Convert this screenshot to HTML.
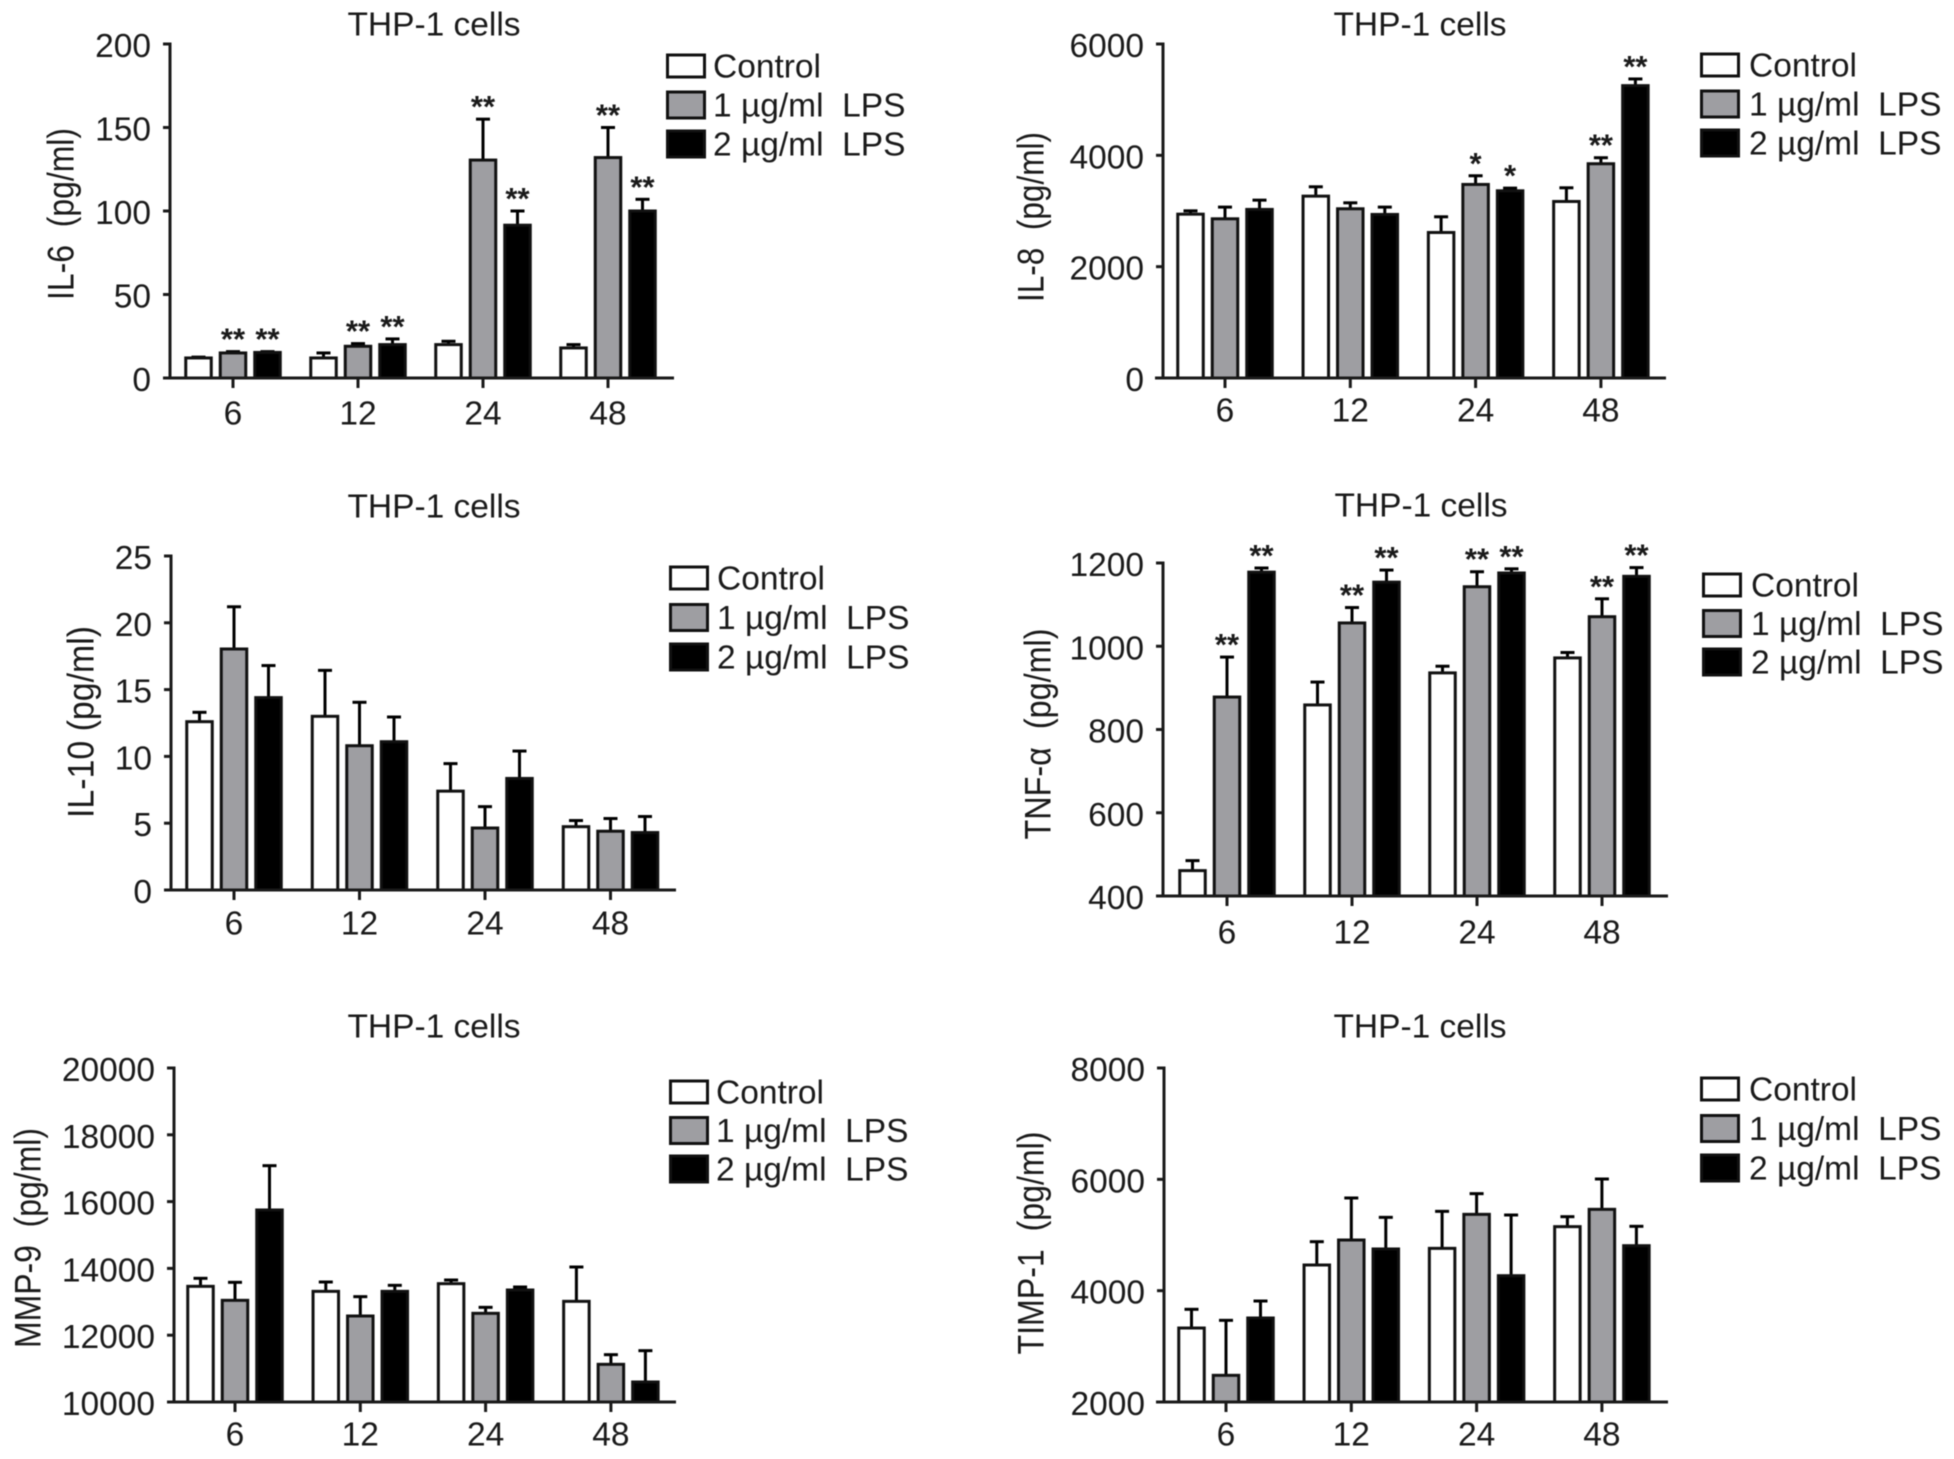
<!DOCTYPE html>
<html lang="en">
<head>
<meta charset="utf-8">
<title>THP-1 cell cytokine panels</title>
<style>
html,body{margin:0;padding:0;background:#fff;width:1954px;height:1459px;overflow:hidden}
svg{display:block;filter:blur(0.6px)}
text{font-family:"Liberation Sans",Arial,sans-serif;fill:#1a1a1a;white-space:pre}
</style>
</head>
<body>
<svg id="figure" xmlns="http://www.w3.org/2000/svg" width="1954" height="1459" viewBox="0 0 1954 1459"></svg>
<script>
const categories = ['6', '12', '24', '48'];
const seriesNames = ['Control', '1 \u00b5g/ml  LPS', '2 \u00b5g/ml  LPS'];

const il6Ticks = [0, 50, 100, 150, 200];
const il6Control = [12, 12, 20, 18];
const il6ControlErr = [0.5, 3, 2, 2];
const il6Low = [15, 19, 130.5, 132];
const il6LowErr = [0.8, 1.6, 24.5, 18];
const il6High = [15.3, 20, 91.5, 100];
const il6HighErr = [0.5, 3.4, 8.5, 7];
const il6LowStars = ['**', '**', '**', '**'];
const il6HighStars = ['**', '**', '**', '**'];

const il8Ticks = [0, 2000, 4000, 6000];
const il8Control = [2943, 3267, 2614, 3171];
const il8ControlErr = [60, 168, 282, 246];
const il8Low = [2860, 3040, 3477, 3849];
const il8LowErr = [210, 107, 156, 108];
const il8High = [3028, 2938, 3363, 5252];
const il8HighErr = [167, 132, 48, 120];
const il8LowStars = ['', '', '*', '**'];
const il8HighStars = ['', '', '*', '**'];

const il10Ticks = [0, 5, 10, 15, 20, 25];
const il10Control = [12.6, 13, 7.4, 4.74];
const il10ControlErr = [0.7, 3.44, 2.06, 0.46];
const il10Low = [18.04, 10.8, 4.64, 4.4];
const il10LowErr = [3.16, 3.25, 1.6, 0.95];
const il10High = [14.4, 11.1, 8.35, 4.3];
const il10HighErr = [2.4, 1.85, 2.05, 1.2];
const il10LowStars = ['', '', '', ''];
const il10HighStars = ['', '', '', ''];

const tnfTicks = [400, 600, 800, 1000, 1200];
const tnfControl = [461, 859, 936, 972];
const tnfControlErr = [24, 55, 16, 13];
const tnfLow = [878, 1056, 1143, 1071];
const tnfLowErr = [96, 37, 36, 43];
const tnfHigh = [1178, 1154, 1176, 1168];
const tnfHighErr = [10, 29, 10, 21];
const tnfLowStars = ['**', '**', '**', '**'];
const tnfHighStars = ['**', '**', '**', '**'];

const mmpTicks = [10000, 12000, 14000, 16000, 18000, 20000];
const mmpControl = [13463, 13313, 13543, 13014];
const mmpControlErr = [240, 280, 110, 1028];
const mmpLow = [13044, 12575, 12655, 11128];
const mmpLowErr = [539, 579, 179, 289];
const mmpHigh = [15749, 13313, 13353, 10599];
const mmpHighErr = [1327, 180, 90, 938];
const mmpLowStars = ['', '', '', ''];
const mmpHighStars = ['', '', '', ''];

const timpTicks = [2000, 4000, 6000, 8000];
const timpControl = [3329, 4461, 4760, 5150];
const timpControlErr = [336, 419, 665, 179];
const timpLow = [2479, 4910, 5371, 5461];
const timpLowErr = [988, 755, 372, 545];
const timpHigh = [3509, 4749, 4269, 4808];
const timpHighErr = [305, 568, 1090, 348];
const timpLowStars = ['', '', '', ''];
const timpHighStars = ['', '', '', ''];

const panels = [
  {key:'il-6', ylabel:'IL-6  (pg/ml)', ticks:il6Ticks,
   values:[il6Control, il6Low, il6High], errors:[il6ControlErr, il6LowErr, il6HighErr], stars:[null, il6LowStars, il6HighStars],
   box:{axisX:170, top:44, bottom:378, xStart:164, xEnd:674, firstCat:233, catStep:125,
        titleX:434, titleY:25, xLabelY:413, yTitleX:61, yTitleY:214, yTitleLen:172,
        legX:666, legTextX:713, legY0:66, legStep:39}},
  {key:'il-8', ylabel:'IL-8  (pg/ml)', ticks:il8Ticks,
   values:[il8Control, il8Low, il8High], errors:[il8ControlErr, il8LowErr, il8HighErr], stars:[null, il8LowStars, il8HighStars],
   box:{axisX:1163, top:44, bottom:378, xStart:1155, xEnd:1666, firstCat:1225, catStep:125.3,
        titleX:1420, titleY:25, xLabelY:410, yTitleX:1031, yTitleY:217, yTitleLen:170,
        legX:1700, legTextX:1749, legY0:65, legStep:39}},
  {key:'il-10', ylabel:'IL-10 (pg/ml)', ticks:il10Ticks,
   values:[il10Control, il10Low, il10High], errors:[il10ControlErr, il10LowErr, il10HighErr], stars:[null, il10LowStars, il10HighStars],
   box:{axisX:171, top:556, bottom:890, xStart:164, xEnd:676, firstCat:234, catStep:125.5,
        titleX:434, titleY:507, xLabelY:923, yTitleX:81, yTitleY:722, yTitleLen:192,
        legX:669, legTextX:717, legY0:578, legStep:39.5}},
  {key:'tnf-alpha', ylabel:'TNF-\u03b1  (pg/ml)', ticks:tnfTicks,
   values:[tnfControl, tnfLow, tnfHigh], errors:[tnfControlErr, tnfLowErr, tnfHighErr], stars:[null, tnfLowStars, tnfHighStars],
   box:{axisX:1163, top:563, bottom:896, xStart:1158, xEnd:1668, firstCat:1227, catStep:125,
        titleX:1421, titleY:506, xLabelY:932, yTitleX:1038, yTitleY:734, yTitleLen:211,
        legX:1702, legTextX:1751, legY0:585, legStep:38.5}},
  {key:'mmp-9', ylabel:'MMP-9  (pg/ml)', ticks:mmpTicks,
   values:[mmpControl, mmpLow, mmpHigh], errors:[mmpControlErr, mmpLowErr, mmpHighErr], stars:[null, mmpLowStars, mmpHighStars],
   box:{axisX:174, top:1068, bottom:1402, xStart:167, xEnd:676, firstCat:235, catStep:125.3,
        titleX:434, titleY:1027, xLabelY:1434, yTitleX:28, yTitleY:1238, yTitleLen:220,
        legX:669, legTextX:716, legY0:1092, legStep:38.5}},
  {key:'timp-1', ylabel:'TIMP-1  (pg/ml)', ticks:timpTicks,
   values:[timpControl, timpLow, timpHigh], errors:[timpControlErr, timpLowErr, timpHighErr], stars:[null, timpLowStars, timpHighStars],
   box:{axisX:1164, top:1068, bottom:1402, xStart:1156, xEnd:1668, firstCat:1226, catStep:125.3,
        titleX:1420, titleY:1027, xLabelY:1434, yTitleX:1031, yTitleY:1243, yTitleLen:223,
        legX:1700, legTextX:1749, legY0:1089, legStep:39.5}}
];

const INK = '#1a1a1a';
const FILLS = ['#ffffff', '#9e9ea2', '#000000'];
const FONT = 33.5;
const TITLE_FONT = 37;
const BAR_W = 25.5;
const BAR_OFFSET = 34.5;
const STROKE = 3;
const svgNS = 'http://www.w3.org/2000/svg';
const figure = document.getElementById('figure');

function make(parent, tag, attrs, content) {
  const node = document.createElementNS(svgNS, tag);
  for (const k in attrs) node.setAttribute(k, attrs[k]);
  if (content !== undefined) node.textContent = content;
  parent.appendChild(node);
  return node;
}

function drawPanel(p) {
  const b = p.box;
  const lo = p.ticks[0];
  const hi = p.ticks[p.ticks.length - 1];
  const yScale = v => b.bottom - (v - lo) / (hi - lo) * (b.bottom - b.top);
  const catX = i => b.firstCat + i * b.catStep;
  const barX = (i, s) => catX(i) + (s - 1) * BAR_OFFSET;

  const g = make(figure, 'g', {});
  
  

  const title = make(g, 'text', {x:b.titleX, y:b.titleY + 10.5, 'text-anchor':'middle', 'font-size':FONT}, 'THP-1 cells');
  
  

  const yTitle = make(g, 'text', {x:b.yTitleX, y:b.yTitleY, 'text-anchor':'middle', 'dominant-baseline':'central',
    'font-size':TITLE_FONT, textLength:b.yTitleLen, lengthAdjust:'spacingAndGlyphs',
    transform:'rotate(-90 ' + b.yTitleX + ' ' + b.yTitleY + ')'}, p.ylabel);
  
  

  // bars and error bars
  p.values.forEach((series, s) => {
    series.forEach((v, i) => {
      const x = barX(i, s);
      const top = yScale(v + p.errors[s][i]);
      const stem = make(g, 'line', {x1:x, x2:x, y1:yScale(v), y2:top, stroke:'#000', 'stroke-width':STROKE});
      
      
      const cap = make(g, 'line', {x1:x - 7, x2:x + 7, y1:top, y2:top, stroke:'#000', 'stroke-width':STROKE});
      
      
      const bar = make(g, 'rect', {x:x - BAR_W / 2, y:yScale(v), width:BAR_W, height:b.bottom - yScale(v),
        fill:FILLS[s], stroke:'#111', 'stroke-width':STROKE});
      
      
      const mark = p.stars[s] ? p.stars[s][i] : '';
      if (mark) {
        const star = make(g, 'text', {x:x, y:top - 2, 'text-anchor':'middle', 'font-size':31, 'font-weight':'bold'}, mark);
        
        
      }
    });
  });

  // axes
  const yAxis = make(g, 'line', {x1:b.axisX, x2:b.axisX, y1:b.top - 1.5, y2:b.bottom, stroke:INK, 'stroke-width':STROKE});
  
  
  const xAxis = make(g, 'line', {x1:b.xStart, x2:b.xEnd, y1:b.bottom, y2:b.bottom, stroke:INK, 'stroke-width':STROKE});
  
  

  p.ticks.forEach(t => {
    const y = yScale(t);
    const mark = make(g, 'line', {x1:b.axisX - 7, x2:b.axisX, y1:y, y2:y, stroke:INK, 'stroke-width':STROKE});
    
    
    const label = make(g, 'text', {x:b.axisX - 19, y:y + 13, 'text-anchor':'end', 'font-size':FONT}, String(t));
    
    
  });

  categories.forEach((c, i) => {
    const x = catX(i);
    const mark = make(g, 'line', {x1:x, x2:x, y1:b.bottom, y2:b.bottom + 10, stroke:INK, 'stroke-width':STROKE});
    
    
    const label = make(g, 'text', {x:x, y:b.xLabelY + 11.5, 'text-anchor':'middle', 'font-size':FONT}, c);
    
    
  });

  // legend
  seriesNames.forEach((name, s) => {
    const cy = b.legY0 + s * b.legStep;
    const h = s === 0 ? 22 : 26;
    const swatch = make(g, 'rect', {x:b.legX + 1.5, y:cy - h / 2, width:37, height:h, fill:FILLS[s], stroke:'#111', 'stroke-width':STROKE});
    
    
    const label = make(g, 'text', {x:b.legTextX, y:cy + 11.5, 'font-size':FONT}, name);
    
    
  });
}

panels.forEach(drawPanel);
</script>
</body>
</html>
